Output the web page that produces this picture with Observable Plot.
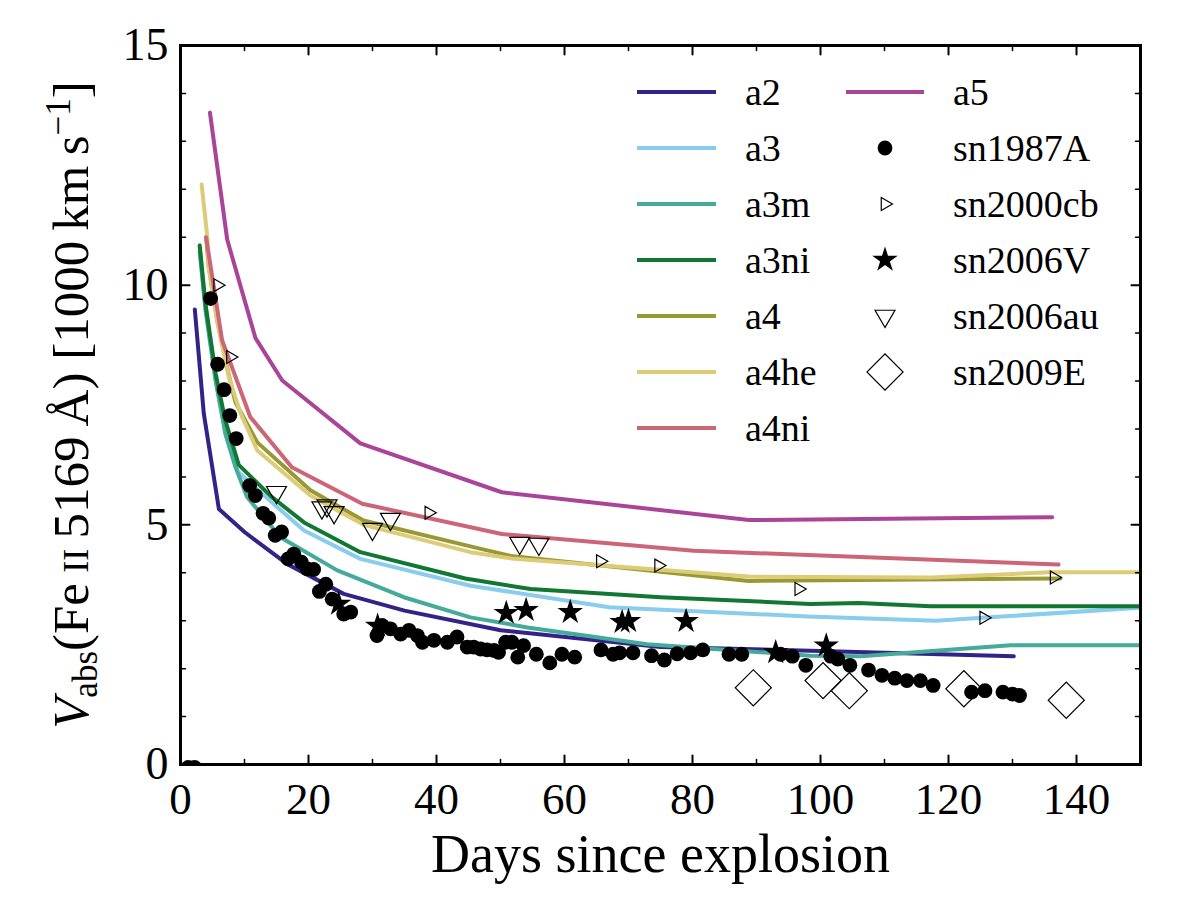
<!DOCTYPE html>
<html><head><meta charset="utf-8">
<script src="https://cdn.jsdelivr.net/npm/d3@7"></script>
<script src="https://cdn.jsdelivr.net/npm/@observablehq/plot@0.6"></script>
<style>body{margin:0;background:#fff;} #chart svg{display:block;}</style>
</head><body><div id="chart"></div>
<script>
// ---------- model series ----------
const modelNames  = ["a2","a3","a3m","a3ni","a4","a4he","a4ni","a5"];
const modelColors = ["#332288","#88CCEE","#44AA99","#117733","#999933","#DDCC77","#CC6677","#AA4499"];

const a2Days   = [2.24, 3.64, 6.0, 10.0, 16.7, 25.5, 35.0, 50.0, 75.0, 100.0, 130.2];
const a2Vel    = [9.49, 7.32, 5.33, 4.85, 4.18, 3.56, 3.21, 2.80, 2.45, 2.37, 2.26];
const a3Days   = [3.0, 3.9, 5.5, 7.0, 9.0, 14.0, 19.3, 28.1, 45.3, 67.0, 98.0, 118.0, 150.0];
const a3Vel    = [10.8, 9.5, 8.0, 7.0, 6.1, 5.5, 4.88, 4.29, 3.73, 3.28, 3.09, 3.00, 3.27];
const a3mDays  = [3.0, 3.9, 5.5, 7.0, 8.6, 10.4, 15.6, 24.5, 34.9, 45.3, 54.2, 72.9, 98.4, 106.3, 129.7, 150.0];
const a3mVel   = [10.7, 9.5, 8.0, 6.9, 6.2, 5.58, 4.74, 4.05, 3.49, 3.07, 2.86, 2.51, 2.27, 2.26, 2.49, 2.49];
const a3niDays = [3.0, 3.9, 5.5, 7.0, 9.1, 14.1, 19.3, 28.1, 44.5, 54.7, 75.0, 98.4, 106.0, 117.2, 150.0];
const a3niVel  = [10.83, 9.61, 8.15, 7.18, 6.25, 5.60, 5.05, 4.43, 3.88, 3.66, 3.49, 3.35, 3.37, 3.30, 3.30];
const a4Days   = [4.0, 4.4, 5.7, 7.5, 8.6, 12.0, 20.3, 28.6, 45.3, 51.6, 88.8, 137.5];
const a4Vel    = [11.0, 10.4, 9.3, 8.15, 7.55, 6.72, 5.72, 5.09, 4.55, 4.35, 3.83, 3.88];
const a4heDays = [3.3, 4.2, 4.4, 5.7, 7.55, 9.4, 12.0, 20.3, 28.6, 45.3, 51.6, 88.8, 117.2, 135.9, 150.0];
const a4heVel  = [12.1, 11.0, 10.37, 9.26, 8.08, 7.32, 6.55, 5.61, 5.00, 4.43, 4.30, 3.92, 3.90, 4.01, 4.01];
const a4niDays = [4.0, 6.5, 10.9, 17.4, 28.4, 50.2, 80.2, 137.2];
const a4niVel  = [11.0, 8.85, 7.25, 6.2, 5.44, 4.81, 4.46, 4.17];
const a5Days   = [4.6, 7.3, 11.7, 15.9, 28.1, 50.2, 88.8, 136.2];
const a5Vel    = [13.6, 10.95, 8.9, 8.01, 6.70, 5.68, 5.10, 5.16];

// ---------- observations ----------
const sn1987ADays = [1.2, 2.2, 4.7, 5.8, 6.8, 7.7, 8.7, 10.8, 11.7, 12.9, 13.8, 14.8, 15.8, 16.8, 17.7, 18.9, 19.8, 20.8,
  21.7, 22.7, 23.7, 25.5, 26.6, 30.7, 31.5, 32.8, 34.4, 35.7, 37.0, 37.8, 39.6, 41.7, 43.2, 44.8, 45.8, 46.9, 47.9,
  49.0, 49.7, 50.8, 51.8, 52.7, 53.6, 55.6, 57.7, 59.6, 61.6, 65.7, 67.6, 68.6, 70.7, 73.6, 75.6, 77.6, 79.7, 81.6,
  85.7, 87.7, 93.75, 95.6, 97.7, 101.6, 102.7, 104.6, 107.5, 109.6, 111.6, 113.5, 115.6, 117.6, 123.6, 125.7, 128.5,
  130.0, 131.1];
const sn1987AVel = [-0.06, -0.06, 9.72, 8.35, 7.82, 7.28, 6.80, 5.82, 5.61, 5.24, 5.14, 4.78, 4.85, 4.29, 4.39, 4.22, 4.08, 4.07,
  3.61, 3.76, 3.45, 3.14, 3.18, 2.69, 2.90, 2.83, 2.72, 2.80, 2.69, 2.55, 2.59, 2.55, 2.66, 2.45, 2.45, 2.41, 2.39,
  2.38, 2.34, 2.55, 2.55, 2.24, 2.48, 2.30, 2.12, 2.30, 2.24, 2.39, 2.30, 2.33, 2.33, 2.27, 2.18, 2.31, 2.33, 2.39,
  2.30, 2.30, 2.30, 2.26, 2.07, 2.26, 2.20, 2.07, 1.97, 1.86, 1.80, 1.75, 1.75, 1.65, 1.51, 1.54, 1.51,
  1.47, 1.44];
const sn2000cbDays = [5.8, 7.8, 38.8, 65.6, 74.7, 96.6, 125.5, 136.5];
const sn2000cbVel  = [10.0, 8.5, 5.25, 4.24, 4.15, 3.66, 3.06, 3.90];
const sn2006VDays  = [24.7, 30.8, 50.9, 54.0, 60.9, 69.0, 70.0, 79.0, 93.0, 100.9];
const sn2006VVel   = [3.35, 2.89, 3.16, 3.22, 3.18, 2.97, 2.99, 2.99, 2.34, 2.48];
const sn2006auDays = [15.0, 22.1, 22.9, 24.0, 30.0, 32.8, 53.0, 56.0];
const sn2006auVel  = [5.68, 5.36, 5.40, 5.26, 4.91, 5.12, 4.62, 4.60];
const sn2009EDays  = [89.5, 100.4, 104.5, 122.4, 138.4];
const sn2009EVel   = [1.60, 1.75, 1.54, 1.58, 1.34];

// ---------- axis ticks ----------
const xMajor = [0, 20, 40, 60, 80, 100, 120, 140];
const xMinor = [10, 30, 50, 70, 90, 110, 130, 150];
const yMajor = [0, 5, 10, 15];
const yMinor = [1, 2, 3, 4, 6, 7, 8, 9, 11, 12, 13, 14];

const obsNames = ["sn1987A", "sn2000cb", "sn2006V", "sn2006au", "sn2009E"];

// ---------- build tables ----------
const modelDays = [a2Days, a3Days, a3mDays, a3niDays, a4Days, a4heDays, a4niDays, a5Days];
const modelVels = [a2Vel, a3Vel, a3mVel, a3niVel, a4Vel, a4heVel, a4niVel, a5Vel];
const models = modelNames.flatMap((name, i) => modelDays[i].map((d, j) => ({model: name, day: d, v: modelVels[i][j]})));
const pts = (days, vel) => days.map((d, j) => ({day: d, v: vel[j]}));
const sn1987A = pts(sn1987ADays, sn1987AVel);
const sn2000cb = pts(sn2000cbDays, sn2000cbVel);
const sn2006V = pts(sn2006VDays, sn2006VVel);
const sn2006au = pts(sn2006auDays, sn2006auVel);
const sn2009E = pts(sn2009EDays, sn2009EVel);

const FONT = "Liberation Serif, Times New Roman, serif";
const lineShape = (dx, dy) => ({draw(c, l) { c.moveTo(0, 0); c.lineTo(dx * l, dy * l); }});
const tickSet = (vals, axis, len, sw) => {
  const opts = {length: len, anchor: "start", stroke: "black", strokeWidth: sw};
  if (axis === "x") return [
    Plot.vector(vals, {...opts, x: d => d, frameAnchor: "bottom", shape: lineShape(0, -1)}),
    Plot.vector(vals, {...opts, x: d => d, frameAnchor: "top", shape: lineShape(0, 1)})
  ];
  return [
    Plot.vector(vals, {...opts, y: d => d, frameAnchor: "left", shape: lineShape(1, 0)}),
    Plot.vector(vals, {...opts, y: d => d, frameAnchor: "right", shape: lineShape(-1, 0)})
  ];
};

const markerStyle = {
  sn1987A:  {symbol: "circle", r: 7.4, fill: "black", stroke: "none", rotate: 0},
  sn2000cb: {symbol: "triangle", r: 4.8, fill: "none", stroke: "black", strokeWidth: 1.2, rotate: 90},
  sn2006V:  {symbol: "star", r: 8, fill: "black", stroke: "none", rotate: 0},
  sn2006au: {symbol: "triangle", r: 7.4, fill: "none", stroke: "black", strokeWidth: 1.2, rotate: 180},
  sn2009E:  {symbol: "square", r: 14.4, fill: "none", stroke: "black", strokeWidth: 1.2, rotate: 45}
};

const svg = Plot.plot({
  width: 1200, height: 900,
  marginLeft: 180, marginRight: 60, marginTop: 45, marginBottom: 136,
  style: {fontFamily: FONT, background: "white", overflow: "visible"},
  x: {domain: [0, 150], label: null},
  y: {domain: [0, 15], label: null},
  color: {domain: modelNames, range: modelColors},
  marks: [
    Plot.line(models, {x: "day", y: "v", z: "model", stroke: "model", strokeWidth: 4, clip: true}),
    Plot.dot(sn1987A, {x: "day", y: "v", ...markerStyle.sn1987A, clip: true}),
    Plot.dot(sn2000cb, {x: "day", y: "v", ...markerStyle.sn2000cb, clip: true}),
    Plot.dot(sn2006V, {x: "day", y: "v", ...markerStyle.sn2006V, clip: true}),
    Plot.dot(sn2006au, {x: "day", y: "v", ...markerStyle.sn2006au, clip: true}),
    Plot.dot(sn2009E, {x: "day", y: "v", ...markerStyle.sn2009E, clip: true}),
    ...tickSet(xMajor, "x", 9, 2),
    ...tickSet(xMinor, "x", 5, 1.5),
    ...tickSet(yMajor, "y", 9, 2),
    ...tickSet(yMinor, "y", 5, 1.5),
    Plot.frame({stroke: "black", strokeWidth: 3}),
    Plot.axisX(xMajor, {tickSize: 0, tickPadding: 18, fontSize: 45, fontFamily: FONT, fill: "black", label: null}),
    Plot.axisY(yMajor, {tickSize: 0, tickPadding: 12, fontSize: 46, fontFamily: FONT, fill: "black", label: null}),
    Plot.text(["Days since explosion"], {frameAnchor: "bottom", dy: 107, fontSize: 54, fontFamily: FONT, fill: "black"})
  ]
});
document.getElementById("chart").appendChild(svg);

// ---------- y axis label ----------
const sel = d3.select(svg);
const yl = sel.append("text")
  .attr("transform", "translate(88,405) rotate(-90)")
  .attr("text-anchor", "middle")
  .attr("font-family", FONT).attr("font-size", 51).attr("fill", "black");
yl.append("tspan").attr("font-style", "italic").text("V");
yl.append("tspan").attr("font-size", 35).attr("dy", 9).text("abs");
yl.append("tspan").attr("dy", -9).text("(Fe\u2009");
yl.append("tspan").attr("font-size", 36).text("II");
yl.append("tspan").text("\u20095169\u2009Å) [1000\u2009km\u2009s");
yl.append("tspan").attr("font-size", 35).attr("dy", -18).text("\u22121");
yl.append("tspan").attr("dy", 18).text("]");

// ---------- legend ----------
const leg = sel.append("g").attr("font-family", FONT).attr("font-size", 38).attr("fill", "black")
  .attr("text-anchor", "start");
const rowY = i => 92 + 56 * i;
const col1 = modelNames.slice(0, 7);
col1.forEach((name, i) => {
  leg.append("line").attr("x1", 637).attr("x2", 716).attr("y1", rowY(i)).attr("y2", rowY(i))
    .attr("stroke", modelColors[i]).attr("stroke-width", 4);
  leg.append("text").attr("x", 745).attr("y", rowY(i) + 13).attr("text-anchor", "start").text(name);
});
leg.append("line").attr("x1", 846).attr("x2", 924).attr("y1", rowY(0)).attr("y2", rowY(0))
  .attr("stroke", modelColors[7]).attr("stroke-width", 4);
leg.append("text").attr("x", 953).attr("y", rowY(0) + 13).attr("text-anchor", "start").text(modelNames[7]);
const symbolTypes = {circle: d3.symbolCircle, triangle: d3.symbolTriangle, star: d3.symbolStar, square: d3.symbolSquare};
obsNames.forEach((name, k) => {
  const st = markerStyle[name];
  const yy = rowY(k + 1);
  leg.append("path")
    .attr("d", d3.symbol(symbolTypes[st.symbol], Math.PI * st.r * st.r)())
    .attr("transform", `translate(885,${yy}) rotate(${st.rotate})`)
    .attr("fill", st.fill).attr("stroke", st.stroke).attr("stroke-width", st.strokeWidth || 0);
  leg.append("text").attr("x", 953).attr("y", yy + 13).attr("text-anchor", "start").text(name);
});
</script>
</body></html>
